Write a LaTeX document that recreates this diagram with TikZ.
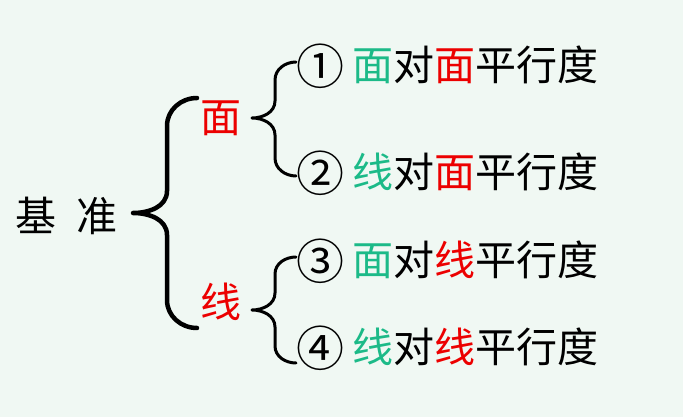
\documentclass[tikz,border=0pt]{standalone}
\usepackage{fontspec}
\newfontfamily\cjk{Noto Sans CJK SC}
\definecolor{bg}{RGB}{240,248,243}
\definecolor{lgreen}{RGB}{28,186,136}
\definecolor{lred}{RGB}{236,0,0}
\newcommand{\circnum}[1]{\raisebox{-3.5pt}{\fontsize{48}{48}\selectfont #1}}
\begin{document}
\begin{tikzpicture}[x=1pt, y=-1pt,
    every node/.style={font=\cjk\fontsize{41}{41}\selectfont, inner sep=0pt},
    item/.style={anchor=west},
    brace/.style={line width=#1, line cap=round, line join=round}]
        \fill[bg] (0,0) rectangle (683,417);
        \useasboundingbox (0,0) rectangle (683,417);

        \node[anchor=west] (base) at (15,216) {基\hspace{20pt}准};
        \node[lred] (mian) at (221,118) {面};
        \node[lred] (xian) at (221,302) {线};

        \node[item] (i1) at (296,66) {\circnum{①}\hspace{8pt}\textcolor{lgreen}{面}对\textcolor{lred}{面}平行度};
        \node[item] (i2) at (296,173) {\circnum{②}\hspace{8pt}\textcolor{lgreen}{线}对\textcolor{lred}{面}平行度};
        \node[item] (i3) at (296,261) {\circnum{③}\hspace{8pt}\textcolor{lgreen}{面}对\textcolor{lred}{线}平行度};
        \node[item] (i4) at (296,348) {\circnum{④}\hspace{8pt}\textcolor{lgreen}{线}对\textcolor{lred}{线}平行度};

        % braces
        \coordinate (bt) at (197,98);
        \coordinate (bm) at (133,213);
        \coordinate (bb) at (197,328);
        \draw[brace=4.5pt] (bt) to[out=180,in=90] (167,126) -- (167,191)
            to[out=270,in=0] (bm) to[out=0,in=90] (167,235) -- (167,300)
            to[out=270,in=180] (bb);

        \coordinate (mt) at (296,62);
        \coordinate (mm) at (252,118);
        \coordinate (mb) at (296,176);
        \draw[brace=3pt] (mt) to[out=180,in=90] (275,80) -- (275,101)
            to[out=270,in=0] (mm) to[out=0,in=90] (275,135) -- (275,158)
            to[out=270,in=180] (mb);

        \coordinate (xt) at (296,257);
        \coordinate (xm) at (252,310);
        \coordinate (xb) at (296,363);
        \draw[brace=3pt] (xt) to[out=180,in=90] (275,274) -- (275,293)
            to[out=270,in=0] (xm) to[out=0,in=90] (275,327) -- (275,346)
            to[out=270,in=180] (xb);
    \end{tikzpicture}
\end{document}
